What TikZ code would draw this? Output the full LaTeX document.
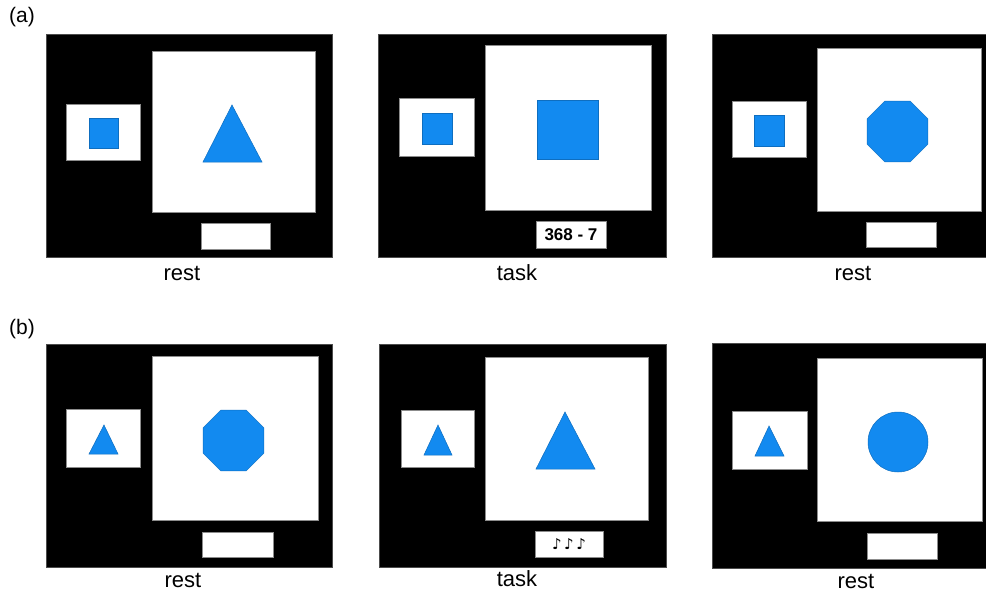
\documentclass[tikz,border=0pt]{standalone}
\usepackage{fontspec}
\setmainfont{Liberation Sans}
\newfontfamily\notefont{DejaVu Sans}
\definecolor{stimblue}{RGB}{18,138,240}

\begin{document}
\begin{tikzpicture}[x=1pt,y=-1pt,screen/.style={fill=black,draw=black!70,line width=0.6pt},window/.style={fill=white,draw=black!45,line width=0.7pt},stim/.style={fill=stimblue,draw=stimblue!80!black,line width=0.5pt},caption/.style={font=\fontsize{22}{25}\selectfont,inner sep=0pt},tag/.style={font=\fontsize{21}{24}\selectfont,inner sep=0pt}]
\useasboundingbox (0,0) rectangle (986,592);
\node[tag] (taga) at (22,17) {(a)};
\node[tag] (tagb) at (22,329) {(b)};
% row (a)
\fill[screen] (46,34) rectangle (332,257);
\fill[window] (152,51) rectangle (315,212);
\fill[window] (66,104) rectangle (140,160);
\fill[window] (201,223) rectangle (270,249);
\fill[stim] (89,118) rectangle (118,148);
\fill[stim] (232,105) -- (262,162) -- (203,162) -- cycle;
\node[caption] (a1) at (182,273) {rest};
\fill[screen] (378,34) rectangle (666,257);
\fill[window] (485,45) rectangle (651,210);
\fill[window] (399,98) rectangle (474,156);
\fill[stim] (422,113) rectangle (452,144);
\fill[stim] (537,100) rectangle (598,159);
\node[window,minimum width=70,minimum height=27,inner sep=0pt,font=\fontsize{17}{20}\selectfont\bfseries] (calc) at (571,234.5) {368 - 7};
\node[caption] (a2) at (517,273) {task};
\fill[screen] (712,34) rectangle (986,257);
\fill[window] (817,48) rectangle (981,211);
\fill[window] (732,101) rectangle (806,157);
\fill[window] (866,222) rectangle (936,247);
\fill[stim] (754,115) rectangle (784,146);
\fill[stim] (897.5,131.5) +(22.5:33) \foreach \a in {67.5,112.5,...,337.5} {-- +(\a:33)} -- cycle;
\node[caption] (a3) at (853,273) {rest};
% row (b)
\fill[screen] (46,344) rectangle (332,567);
\fill[window] (152,356) rectangle (318,520);
\fill[window] (66,409) rectangle (140,467);
\fill[window] (202,532) rectangle (273,557);
\fill[stim] (104,425) -- (118,454) -- (89,454) -- cycle;
\fill[stim] (233.5,440.5) +(22.5:33) \foreach \a in {67.5,112.5,...,337.5} {-- +(\a:33)} -- cycle;
\node[caption] (b1) at (183,580) {rest};
\fill[screen] (379,344) rectangle (666,567);
\fill[window] (485,357) rectangle (648,520);
\fill[window] (401,410) rectangle (474,467);
\fill[stim] (438,425) -- (452,455) -- (424,455) -- cycle;
\fill[stim] (565,412) -- (595,469) -- (536,469) -- cycle;
\node[window,minimum width=68,minimum height=26,inner sep=0pt,font=\notefont\fontsize{15}{17}\selectfont] (tune) at (569,544) {♪\,♪\,♪};
\node[caption] (b2) at (517,579) {task};
\fill[screen] (712,343) rectangle (986,568);
\fill[window] (817,358) rectangle (982,521);
\fill[window] (732,411) rectangle (807,469);
\fill[window] (867,533) rectangle (937,559);
\fill[stim] (769,426) -- (784,456) -- (755,456) -- cycle;
\fill[stim] (898,442) circle[radius=30];
\node[caption] (b3) at (856,581) {rest};
\end{tikzpicture}
\end{document}
